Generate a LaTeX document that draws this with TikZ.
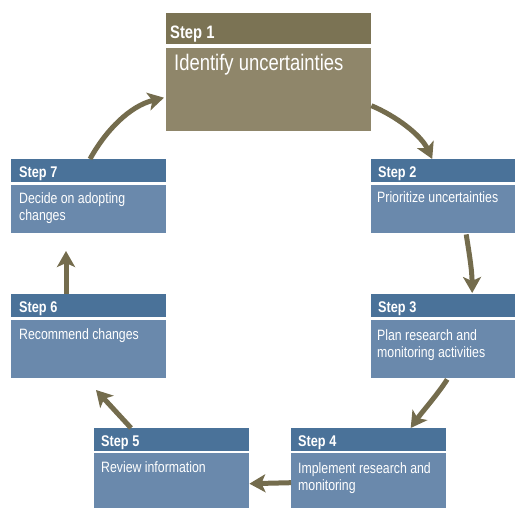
\documentclass[tikz,border=0pt]{standalone}
\usepackage{fontspec}
\setmainfont[FakeStretch=0.82]{Liberation Sans}
\usetikzlibrary{arrows.meta,calc}
\definecolor{hdrblue}{RGB}{74,114,153}
\definecolor{bodyblue}{RGB}{106,137,172}
\definecolor{hdrolive}{RGB}{123,115,84}
\definecolor{bodyolive}{RGB}{143,134,106}
\definecolor{arrowcol}{RGB}{116,108,77}
\tikzset{
  box/.style={rectangle, draw=none, inner sep=0pt, anchor=north west},
  hdr/.style={box, fill=hdrblue, minimum width=155pt, minimum height=23pt},
  bdy/.style={box, fill=bodyblue, minimum width=155pt},
  hdrtext/.style={text=white, inner sep=0pt, anchor=base west, font=\fontsize{15.5}{18}\selectfont\bfseries},
  bdytext/.style={text=white, inner sep=0pt, anchor=north west, align=left, font=\fontsize{15}{17.5}\selectfont},
  flow/.style={draw=arrowcol, line width=5pt, -{Stealth[length=16pt, width=18pt, inset=4pt]}}
}
\begin{document}
\begin{tikzpicture}[x=1pt,y=-1pt]
\useasboundingbox (0,0) rectangle (515,508);
% Step 1
\node[box, fill=hdrolive, minimum width=205pt, minimum height=31pt] (h1) at (166,13) {};
\node[box, fill=bodyolive, minimum width=205pt, minimum height=83pt] (b1) at (166,48) {};
\node[hdrtext, font=\fontsize{18}{21}\selectfont\bfseries] (s1) at ($(h1.south west)+(4,-6)$) {Step 1};
\node[bdytext, anchor=base west, font=\fontsize{22.5}{26}\selectfont] (t1) at ($(b1.north west)+(8,23)$) {Identify uncertainties};
% Step 2
\node[hdr, minimum width=144pt] (h2) at (371,159) {};
\node[bdy, minimum width=144pt, minimum height=48pt] (b2) at (371,185) {};
\node[hdrtext] (s2) at ($(h2.south west)+(7,-5)$) {Step 2};
\node[bdytext] (t2) at ($(b2.north west)+(6,6.5)$) {Prioritize uncertainties};
% Step 3
\node[hdr, minimum width=144pt] (h3) at (371,294) {};
\node[bdy, minimum width=144pt, minimum height=58pt] (b3) at (371,320) {};
\node[hdrtext] (s3) at ($(h3.south west)+(7,-5)$) {Step 3};
\node[bdytext] (t3) at ($(b3.north west)+(6,9)$) {Plan research and\\monitoring activities};
% Step 4
\node[hdr] (h4) at (291,428) {};
\node[bdy, minimum height=55pt] (b4) at (291,453) {};
\node[hdrtext] (s4) at ($(h4.south west)+(7,-5)$) {Step 4};
\node[bdytext] (t4) at ($(b4.north west)+(7,9)$) {Implement research and\\monitoring};
% Step 5
\node[hdr] (h5) at (94,428) {};
\node[bdy, minimum height=55pt] (b5) at (94,453) {};
\node[hdrtext] (s5) at ($(h5.south west)+(7,-5)$) {Step 5};
\node[bdytext] (t5) at ($(b5.north west)+(7,8)$) {Review information};
% Step 6
\node[hdr] (h6) at (11,294) {};
\node[bdy, minimum height=58pt] (b6) at (11,320) {};
\node[hdrtext] (s6) at ($(h6.south west)+(8,-5)$) {Step 6};
\node[bdytext] (t6) at ($(b6.north west)+(8,8)$) {Recommend changes};
% Step 7
\node[hdr] (h7) at (11,159) {};
\node[bdy, minimum height=48pt] (b7) at (11,185) {};
\node[hdrtext] (s7) at ($(h7.south west)+(8,-5)$) {Step 7};
\node[bdytext] (t7) at ($(b7.north west)+(8,7)$) {Decide on adopting\\changes};
% Arrows
\draw[flow] ($(b1.east)+(0,16)$) .. controls (396,116) and (421,135) .. ($(h2.north)+(-11,0)$);
\draw[flow] ($(b2.south)+(23,1)$) .. controls (469,252) and (472,270) .. ($(h3.north)+(29,-1)$);
\draw[flow] ($(b3.south)+(4,1)$) .. controls (438,394) and (422,412) .. ($(h4.north)+(42,0)$);
\draw[flow] ($(b4.west)+(0,2)$) -- ($(b5.east)+(0,3)$);
\draw[flow] ($(h5.north west)+(37,0)$) -- (96,390);
\draw[flow] ($(h6.north west)+(55,0)$) -- (66,251);
\draw[flow] ($(h7.north west)+(79,0)$) .. controls (106,130) and (130,106) .. ($(b1.west)+(-2,8)$);
\end{tikzpicture}
\end{document}
